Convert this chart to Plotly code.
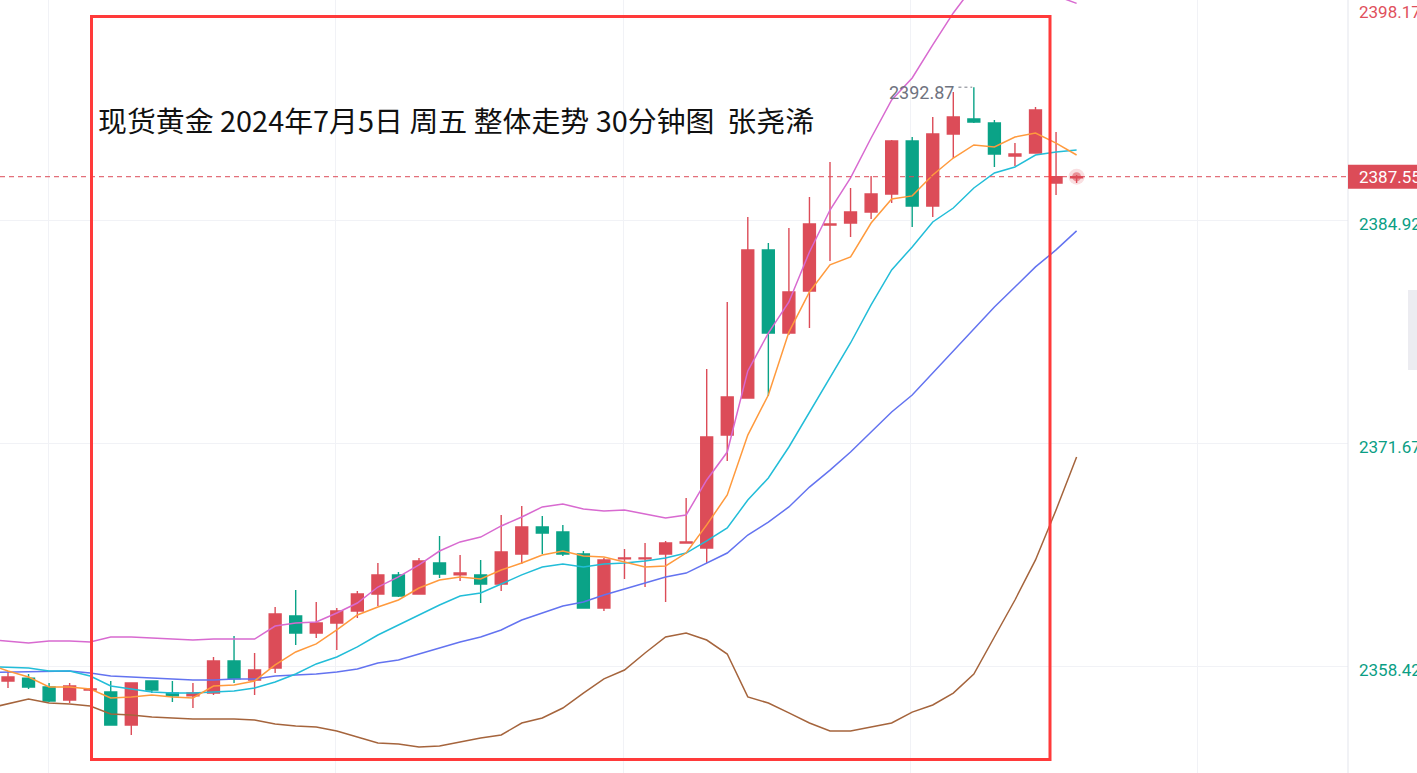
import plotly.graph_objects as go

# ---------------- data ----------------
candle_idx = list(range(53))
opens = [2357.59, 2357.76, 2357.23, 2356.46, 2357.05, 2356.93, 2354.97, 2357.59, 2356.87, 2356.70,
         2356.87, 2358.78, 2357.65, 2358.36, 2361.45, 2360.44, 2361.03, 2361.75, 2362.76, 2363.89,
         2362.76, 2364.60, 2363.89, 2363.89, 2363.35, 2365.13, 2366.74, 2366.44, 2365.13, 2361.92,
         2364.84, 2364.84, 2365.13, 2365.79, 2365.49, 2372.20, 2374.40, 2383.20, 2378.26, 2380.76,
         2384.68, 2384.80, 2385.45, 2386.52, 2389.67, 2385.81, 2390.09, 2390.98, 2390.74, 2388.78,
         2388.96, 2387.18, 2387.49]
highs = [2358.18, 2358.00, 2357.47, 2357.47, 2357.17, 2357.59, 2357.50, 2357.62, 2357.59, 2357.47,
         2359.01, 2360.26, 2359.25, 2361.98, 2362.99, 2362.28, 2361.92, 2362.93, 2364.60, 2364.06,
         2364.90, 2366.20, 2365.07, 2364.78, 2367.45, 2367.99, 2367.39, 2366.86, 2365.31, 2364.90,
         2365.43, 2365.79, 2365.91, 2368.46, 2376.13, 2380.11, 2385.16, 2383.61, 2384.50, 2386.35,
         2388.43, 2386.88, 2387.59, 2389.73, 2389.91, 2391.10, 2392.59, 2392.87, 2390.92, 2389.55,
         2391.69, 2390.21, 2387.65]
lows = [2357.17, 2357.11, 2356.34, 2356.28, 2356.99, 2354.95, 2354.38, 2356.87, 2356.34, 2355.98,
        2356.75, 2357.47, 2356.75, 2358.06, 2359.73, 2360.14, 2359.43, 2361.33, 2362.04, 2362.58,
        2362.74, 2363.71, 2363.53, 2362.22, 2362.93, 2364.54, 2365.13, 2365.01, 2361.90, 2361.75,
        2363.65, 2363.17, 2362.28, 2365.75, 2364.60, 2370.66, 2374.38, 2374.52, 2378.15, 2378.56,
        2382.54, 2383.97, 2385.04, 2385.99, 2384.56, 2385.16, 2388.66, 2390.74, 2388.13, 2388.19,
        2388.94, 2386.46, 2387.18]
closes = [2357.82, 2357.23, 2356.40, 2357.29, 2357.11, 2354.97, 2357.47, 2357.05, 2356.70, 2356.87,
          2358.78, 2357.71, 2358.24, 2361.57, 2360.44, 2361.03, 2361.75, 2362.76, 2363.89, 2362.64,
          2364.72, 2363.94, 2364.00, 2363.35, 2365.25, 2366.74, 2366.38, 2365.13, 2361.92, 2364.78,
          2364.90, 2364.90, 2365.79, 2365.85, 2372.09, 2374.46, 2383.20, 2378.26, 2380.70, 2384.74,
          2384.74, 2385.45, 2386.52, 2389.67, 2385.81, 2390.09, 2391.10, 2390.80, 2388.90, 2388.90,
          2391.52, 2387.55, 2387.55]

line_idx = list(range(-1, 53))
ma5 = [2358.60,
       2358.18, 2357.82, 2357.23, 2357.23, 2357.11, 2356.58, 2356.64, 2356.75, 2356.64, 2356.58,
       2357.29, 2357.35, 2357.59, 2358.54, 2359.31, 2359.79, 2360.62, 2361.51, 2361.98, 2362.40,
       2363.11, 2363.59, 2363.77, 2363.65, 2364.18, 2364.60, 2365.07, 2365.31, 2365.01, 2364.95,
       2364.66, 2364.36, 2364.42, 2365.19, 2366.86, 2368.64, 2372.20, 2374.58, 2378.32, 2380.70,
       2382.31, 2382.78, 2384.80, 2386.23, 2386.41, 2387.65, 2388.66, 2389.44, 2389.32, 2389.91,
       2390.15, 2389.55, 2388.84]
ma10 = [2358.45,
        2358.42, 2358.36, 2358.18, 2358.18, 2357.88, 2357.29, 2357.11, 2356.93, 2356.87, 2356.87,
        2356.93, 2356.99, 2357.17, 2357.53, 2358.00, 2358.60, 2359.01, 2359.61, 2360.32, 2360.91,
        2361.51, 2362.10, 2362.64, 2362.82, 2363.35, 2363.89, 2364.36, 2364.54, 2364.36, 2364.54,
        2364.60, 2364.72, 2364.90, 2365.19, 2365.91, 2366.68, 2368.34, 2369.65, 2371.49, 2373.57,
        2375.65, 2377.67, 2379.93, 2382.01, 2383.38, 2384.86, 2385.69, 2386.88, 2387.77, 2388.13,
        2388.84, 2389.02, 2389.14]
boll_mid = [2358.10,
            2358.12, 2358.18, 2358.18, 2358.18, 2358.06, 2357.88, 2357.82, 2357.76, 2357.71, 2357.65,
            2357.65, 2357.71, 2357.71, 2357.88, 2357.94, 2358.00, 2358.12, 2358.30, 2358.66, 2358.83,
            2359.19, 2359.55, 2359.90, 2360.20, 2360.62, 2361.21, 2361.63, 2362.04, 2362.28, 2362.70,
            2363.05, 2363.41, 2363.77, 2364.00, 2364.60, 2365.19, 2366.26, 2367.03, 2367.93, 2369.11,
            2370.12, 2371.19, 2372.38, 2373.57, 2374.58, 2375.89, 2377.25, 2378.56, 2379.81, 2381.00,
            2382.19, 2383.20, 2384.33]
boll_upper = [2360.05,
              2359.96, 2359.84, 2359.96, 2359.96, 2359.90, 2360.20, 2360.20, 2360.14, 2360.08, 2360.02,
              2360.08, 2360.08, 2360.08, 2360.85, 2361.03, 2361.09, 2361.63, 2362.22, 2363.17, 2363.77,
              2364.48, 2365.31, 2365.85, 2366.14, 2366.80, 2367.33, 2367.93, 2368.10, 2367.81, 2367.69,
              2367.75, 2367.51, 2367.27, 2367.45, 2369.53, 2371.19, 2376.01, 2378.26, 2380.11, 2383.08,
              2385.57, 2387.48, 2389.85, 2392.11, 2393.42, 2395.38, 2397.28, 2398.90, 2399.40, 2399.60,
              2399.40, 2398.30, 2397.85]
boll_lower = [2355.95,
              2356.22, 2356.52, 2356.28, 2356.22, 2356.10, 2355.63, 2355.57, 2355.45, 2355.39, 2355.33,
              2355.33, 2355.33, 2355.27, 2355.03, 2354.91, 2354.85, 2354.62, 2354.26, 2353.90, 2353.84,
              2353.67, 2353.72, 2353.96, 2354.20, 2354.38, 2355.09, 2355.39, 2355.98, 2356.87, 2357.71,
              2358.24, 2359.25, 2360.20, 2360.44, 2360.02, 2359.19, 2356.64, 2356.28, 2355.69, 2355.09,
              2354.62, 2354.62, 2354.85, 2355.09, 2355.74, 2356.16, 2356.87, 2358.00, 2360.20, 2362.40,
              2364.78, 2367.75, 2370.90]

axis_ticks = [2358.42, 2371.67, 2384.92]
axis_top_label = 2398.17
last_price = 2387.55
high_mark = 2392.87
high_mark_idx = 47
title_text = "现货黄金 2024年7月5日 周五 整体走势 30分钟图 \u00a0张尧浠"

# ---------------- styling ----------------
RED = "#dc4c58"
GREEN = "#0aa387"
W, H = 1417, 773
PLOT_W = 1348

fig = go.Figure()
fig.add_trace(go.Candlestick(
    x=candle_idx, open=opens, high=highs, low=lows, close=closes,
    increasing=dict(line=dict(color=RED, width=1.4), fillcolor=RED),
    decreasing=dict(line=dict(color=GREEN, width=1.4), fillcolor=GREEN),
    whiskerwidth=0, showlegend=False, hoverinfo="skip"))

for vals, color in [(boll_lower, "#a5643c"), (boll_upper, "#d86ad0"), (boll_mid, "#6373f0"),
                    (ma10, "#22bdd8"), (ma5, "#ff9a3d")]:
    fig.add_trace(go.Scatter(x=line_idx, y=vals, mode="lines",
                             line=dict(color=color, width=1.5),
                             showlegend=False, hoverinfo="skip"))

# current price glow dot
fig.add_trace(go.Scatter(x=[candle_idx[-1]], y=[last_price], mode="markers",
                         marker=dict(size=16, color=RED, opacity=0.18),
                         showlegend=False, hoverinfo="skip"))
fig.add_trace(go.Scatter(x=[candle_idx[-1]], y=[last_price], mode="markers",
                         marker=dict(size=9, color=RED, opacity=0.55),
                         showlegend=False, hoverinfo="skip"))

shapes = [
    # price axis border
    dict(type="line", xref="paper", yref="paper", x0=1, x1=1, y0=0, y1=1,
         line=dict(color="#e3e5ec", width=1)),
    # last price dashed line
    dict(type="line", xref="paper", yref="y", x0=0, x1=1, y0=last_price, y1=last_price,
         line=dict(color=RED, width=1, dash="5px,4px")),
    # last price box on the axis
    dict(type="rect", xref="paper", yref="y", x0=1.0, x1=1.06,
         y0=last_price - 0.713, y1=last_price + 0.713,
         fillcolor=RED, line=dict(width=0)),
    # small gray tab at right edge
    dict(type="rect", xref="paper", yref="paper", x0=1408 / PLOT_W, x1=1.06,
         y0=1 - 370 / H, y1=1 - 290 / H, fillcolor="#ececf1", line=dict(width=0)),
    # red frame
    dict(type="rect", xref="paper", yref="paper",
         x0=91.5 / PLOT_W, x1=1050 / PLOT_W, y0=1 - 759.5 / H, y1=1 - 16.5 / H,
         line=dict(color="#ff3a3a", width=3), fillcolor="rgba(0,0,0,0)"),
    # dotted leader for high marker
    dict(type="line", xref="x", yref="y", x0=high_mark_idx - 0.75, x1=high_mark_idx - 0.08,
         y0=high_mark, y1=high_mark, line=dict(color="#7a7d88", width=1, dash="dot")),
]

lab_x = 1357 / PLOT_W
annotations = [
    dict(text=title_text, xref="paper", yref="paper", x=96 / PLOT_W, y=1 - 119 / H,
         xanchor="left", yanchor="middle", showarrow=False,
         font=dict(family="Noto Sans CJK SC", size=28.9, color="#111111")),
    dict(text=f"{high_mark:.2f}", xref="x", yref="y", x=high_mark_idx, y=high_mark,
         xanchor="right", yanchor="middle", xshift=-18, yshift=-5, showarrow=False,
         font=dict(family="Roboto", size=18, color="#6f7380")),
    dict(text=f"{axis_top_label:.2f}", xref="paper", yref="paper", x=lab_x, y=1 - 12 / H,
         xanchor="left", yanchor="middle", showarrow=False,
         font=dict(family="Roboto", size=17, color="#e0505c")),
    dict(text=f"{last_price:.2f}", xref="paper", yref="y", x=lab_x, y=last_price,
         xanchor="left", yanchor="middle", showarrow=False,
         font=dict(family="Roboto", size=17, color="white")),
]
for v in axis_ticks:
    annotations.append(dict(text=f"{v:.2f}", xref="paper", yref="y", x=lab_x, y=v,
                            xanchor="left", yanchor="middle", yshift=-3, showarrow=False,
                            font=dict(family="Roboto", size=17, color="#0a9e84")))

fig.update_layout(
    width=W, height=H,
    margin=dict(l=0, r=W - PLOT_W, t=0, b=0),
    paper_bgcolor="white", plot_bgcolor="white",
    xaxis=dict(range=[-0.389, 65.207], showticklabels=False,
               tickvals=[1.95, 15.95, 29.93, 43.9, 57.86],
               showgrid=True, gridcolor="#f1f2f6", gridwidth=1, zeroline=False,
               rangeslider=dict(visible=False), showline=False, ticks=""),
    yaxis=dict(range=[2352.12, 2398.05], side="right", showticklabels=False,
               tickvals=axis_ticks, showgrid=True, gridcolor="#f1f2f6", gridwidth=1,
               zeroline=False, showline=False, ticks=""),
    boxgap=0.42, boxgroupgap=0,
    shapes=shapes, annotations=annotations,
    showlegend=False,
)

fig.write_html("out.html")
